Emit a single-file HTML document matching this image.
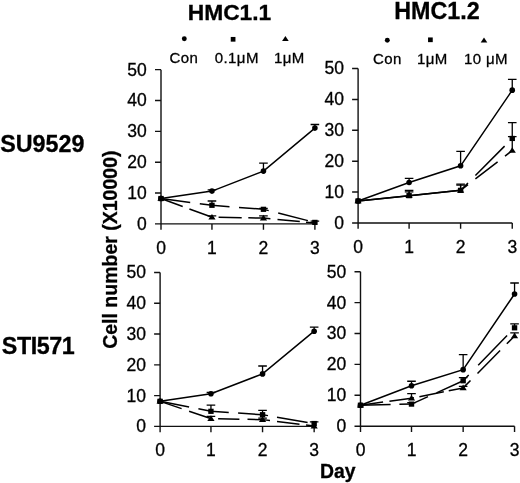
<!DOCTYPE html>
<html><head><meta charset="utf-8"><style>
html,body{margin:0;padding:0;background:#fff;}
svg{display:block;will-change:transform;}
text{font-family:"Liberation Sans",sans-serif;fill:#000;stroke:#000;stroke-width:0.3px;}
.tk{font-size:17.5px;}
.lg{font-size:15px;letter-spacing:0.4px;}
.ttl{font-size:23px;font-weight:bold;}
.row{font-size:23.3px;font-weight:bold;}
.ax{font-size:19.5px;font-weight:bold;}
</style></head><body>
<svg width="520" height="483" viewBox="0 0 520 483">
<rect width="520" height="483" fill="#fff"/>
<text x="187.7" y="19.6" class="ttl" style="font-size:22.8px">HMC1.1</text>
<text x="394.2" y="18.5" class="ttl" style="font-size:23.3px">HMC1.2</text>
<text x="0.2" y="151.6" class="row">SU9529</text>
<text x="1.8" y="353.8" class="row" style="letter-spacing:-0.45px">STI571</text>
<text x="319.9" y="477.7" class="ax" style="font-size:19.4px">Day</text>
<text transform="translate(117 249.7) rotate(-90)" text-anchor="middle" class="ax">Cell number (X10000)</text>
<g fill="#000"><circle cx="184.3" cy="38.7" r="2.45"/><rect x="230.75" y="36.95" width="4.7" height="4.7"/><path d="M285.4 36L288.7 41L282.1 41Z"/><circle cx="387.3" cy="40.3" r="2.45"/><rect x="428.05" y="37.45" width="4.7" height="4.7"/><path d="M484 37.6L487.3 42.6L480.7 42.6Z"/></g>
<text x="169.6" y="63.1" class="lg">Con</text>
<text x="214.8" y="63.1" class="lg">0.1μM</text>
<text x="273.9" y="63.1" class="lg">1μM</text>
<text x="373.1" y="63.5" class="lg">Con</text>
<text x="417" y="63.5" class="lg">1μM</text>
<text x="464" y="63.5" class="lg">10 μM</text>
<path d="M161 69.65V229.7M155 223.9H314.9" stroke="#111" stroke-width="1.4" fill="none"/>
<path d="M155 193.05H161M155 162.2H161M155 131.35H161M155 100.5H161M155 69.65H161M211.95 223.9V229.7M263.45 223.9V229.7M314.9 223.9V229.7" stroke="#111" stroke-width="1.4" fill="none"/>
<text x="146.8" y="229.8" text-anchor="end" class="tk">0</text>
<text x="146.8" y="198.95" text-anchor="end" class="tk">10</text>
<text x="146.8" y="168.1" text-anchor="end" class="tk">20</text>
<text x="146.8" y="137.25" text-anchor="end" class="tk">30</text>
<text x="146.8" y="106.4" text-anchor="end" class="tk">40</text>
<text x="146.8" y="75.55" text-anchor="end" class="tk">50</text>
<text x="161" y="253.9" text-anchor="middle" class="tk">0</text>
<text x="211.95" y="253.9" text-anchor="middle" class="tk">1</text>
<text x="263.45" y="253.9" text-anchor="middle" class="tk">2</text>
<text x="314.9" y="253.9" text-anchor="middle" class="tk">3</text>
<path d="M161 198.51L182.7 206.47M189.4 208.93L211.5 217.04M218.6 217.32L241.7 217.72M248.3 217.84L263.45 218.1L270.4 218.76M277.5 219.43L299.8 221.54M306 222.13L314.9 222.97" fill="none" stroke="#000" stroke-width="1.5" stroke-linejoin="round"/>
<path d="M211.95 217.21V215.97M207.65 215.97H216.25M263.45 218.1V215.94M259.15 215.94H267.75" stroke="#000" stroke-width="1.3" fill="none"/>
<g fill="#000"><path d="M161 195.21L164.6 200.81L157.4 200.81Z"/><path d="M211.95 213.91L215.55 219.51L208.35 219.51Z"/><path d="M263.45 214.8L267.05 220.4L259.85 220.4Z"/></g>
<path d="M161 198.51L190.2 202.4M199.8 203.68L211.95 205.3L229.5 206.66M239 207.4L263.45 209.31L268.7 210.64M278.2 213.06L307.9 220.61" fill="none" stroke="#000" stroke-width="1.5" stroke-linejoin="round"/>
<path d="M211.95 205.3V200.98M207.65 200.98H216.25M263.45 209.31V208.38M259.15 208.38H267.75M314.9 222.39V221.15M310.6 221.15H319.2" stroke="#000" stroke-width="1.3" fill="none"/>
<g fill="#000"><rect x="158.3" y="195.91" width="5.4" height="5.2"/><rect x="209.25" y="202.7" width="5.4" height="5.2"/><rect x="260.75" y="206.71" width="5.4" height="5.2"/><rect x="312.2" y="219.79" width="5.4" height="5.2"/></g>
<polyline points="161,198.51 211.95,191.11 263.45,171.12 314.9,128.11" fill="none" stroke="#000" stroke-width="1.5"/>
<path d="M211.95 191.11V189.87M207.65 189.87H216.25M263.45 171.12V163.09M259.15 163.09H267.75M314.9 128.11V124.5M310.6 124.5H319.2" stroke="#000" stroke-width="1.3" fill="none"/>
<g fill="#000"><circle cx="161" cy="198.51" r="2.8"/><circle cx="211.95" cy="191.11" r="2.8"/><circle cx="263.45" cy="171.12" r="2.8"/><circle cx="314.9" cy="128.11" r="2.8"/></g>
<path d="M358.1 68.55V228.75M352.1 222.95H512.25" stroke="#111" stroke-width="1.4" fill="none"/>
<path d="M352.1 192.07H358.1M352.1 161.19H358.1M352.1 130.31H358.1M352.1 99.43H358.1M352.1 68.55H358.1M409.1 222.95V228.75M460.6 222.95V228.75M512.25 222.95V228.75" stroke="#111" stroke-width="1.4" fill="none"/>
<text x="343.9" y="228.85" text-anchor="end" class="tk">0</text>
<text x="343.9" y="197.97" text-anchor="end" class="tk">10</text>
<text x="343.9" y="167.09" text-anchor="end" class="tk">20</text>
<text x="343.9" y="136.21" text-anchor="end" class="tk">30</text>
<text x="343.9" y="105.33" text-anchor="end" class="tk">40</text>
<text x="343.9" y="74.45" text-anchor="end" class="tk">50</text>
<text x="358.1" y="252.95" text-anchor="middle" class="tk">0</text>
<text x="409.1" y="252.95" text-anchor="middle" class="tk">1</text>
<text x="460.6" y="252.95" text-anchor="middle" class="tk">2</text>
<text x="512.25" y="252.95" text-anchor="middle" class="tk">3</text>
<path d="M358.1 200.96L409.1 195.65L460.6 190.34L468 184.64M475.4 178.94L497.6 161.83M505 156.12L512.25 150.54" fill="none" stroke="#000" stroke-width="1.5" stroke-linejoin="round"/>
<path d="M409.1 195.65V191.95M404.8 191.95H413.4M460.6 190.34V185.09M456.3 185.09H464.9M512.25 150.54V136.64M507.95 136.64H516.55" stroke="#000" stroke-width="1.3" fill="none"/>
<g fill="#000"><path d="M358.1 197.66L361.7 203.26L354.5 203.26Z"/><path d="M409.1 192.35L412.7 197.95L405.5 197.95Z"/><path d="M460.6 187.04L464.2 192.64L457 192.64Z"/><path d="M512.25 147.24L515.85 152.84L508.65 152.84Z"/></g>
<path d="M358.1 200.96L409.1 195.65L460.6 190.34L468 182.91M475.4 175.48L504.6 146.15" fill="none" stroke="#000" stroke-width="1.5" stroke-linejoin="round"/>
<path d="M409.1 195.65V190.4M404.8 190.4H413.4M460.6 190.34V184.16M456.3 184.16H464.9M512.25 138.46V122.71M507.95 122.71H516.55" stroke="#000" stroke-width="1.3" fill="none"/>
<g fill="#000"><rect x="355.4" y="198.36" width="5.4" height="5.2"/><rect x="406.4" y="193.05" width="5.4" height="5.2"/><rect x="457.9" y="187.74" width="5.4" height="5.2"/><rect x="509.55" y="135.86" width="5.4" height="5.2"/></g>
<polyline points="358.1,200.96 409.1,182.5 460.6,165.82 512.25,90.17" fill="none" stroke="#000" stroke-width="1.5"/>
<path d="M409.1 182.5V178.39M404.8 178.39H413.4M460.6 165.82V151.31M456.3 151.31H464.9M512.25 90.17V79.36M507.95 79.36H516.55" stroke="#000" stroke-width="1.3" fill="none"/>
<g fill="#000"><circle cx="358.1" cy="200.96" r="2.8"/><circle cx="409.1" cy="182.5" r="2.8"/><circle cx="460.6" cy="165.82" r="2.8"/><circle cx="512.25" cy="90.17" r="2.8"/></g>
<path d="M160.1 272.5V432.2M154.1 426.4H314.15" stroke="#111" stroke-width="1.4" fill="none"/>
<path d="M154.1 395.62H160.1M154.1 364.84H160.1M154.1 334.06H160.1M154.1 303.28H160.1M154.1 272.5H160.1M210.95 426.4V432.2M262.55 426.4V432.2M314.15 426.4V432.2" stroke="#111" stroke-width="1.4" fill="none"/>
<text x="145.9" y="432.3" text-anchor="end" class="tk">0</text>
<text x="145.9" y="401.52" text-anchor="end" class="tk">10</text>
<text x="145.9" y="370.74" text-anchor="end" class="tk">20</text>
<text x="145.9" y="339.96" text-anchor="end" class="tk">30</text>
<text x="145.9" y="309.18" text-anchor="end" class="tk">40</text>
<text x="145.9" y="278.4" text-anchor="end" class="tk">50</text>
<text x="160.1" y="456.4" text-anchor="middle" class="tk">0</text>
<text x="210.95" y="456.4" text-anchor="middle" class="tk">1</text>
<text x="262.55" y="456.4" text-anchor="middle" class="tk">2</text>
<text x="314.15" y="456.4" text-anchor="middle" class="tk">3</text>
<path d="M160.2 401.35L181.6 408.63M189.1 411.18L210.6 418.49M218.1 418.75L239.4 419.17M247.5 419.33L262.55 419.63L270 420.56M277 421.44L299.5 424.26M306 425.07L313.9 426.06" fill="none" stroke="#000" stroke-width="1.5" stroke-linejoin="round"/>
<path d="M210.95 418.61V416.46M206.65 416.46H215.25M262.55 419.63V418.09M258.25 418.09H266.85" stroke="#000" stroke-width="1.3" fill="none"/>
<g fill="#000"><path d="M160.1 398.01L163.7 403.61L156.5 403.61Z"/><path d="M210.95 415.31L214.55 420.91L207.35 420.91Z"/><path d="M262.55 416.33L266.15 421.93L258.95 421.93Z"/><path d="M314.15 422.79L317.75 428.39L310.55 428.39Z"/></g>
<path d="M160.2 401.33L189.1 407.02M198.4 408.85L210.95 411.32L228.75 412.49M238.1 413.1L262.55 414.7L268 415.63M277 417.17L307.6 422.39" fill="none" stroke="#000" stroke-width="1.5" stroke-linejoin="round"/>
<path d="M210.95 411.32V405.16M206.65 405.16H215.25M262.55 414.7V410.39M258.25 410.39H266.85M314.15 423.51V421.97M309.85 421.97H318.45" stroke="#000" stroke-width="1.3" fill="none"/>
<g fill="#000"><rect x="157.4" y="398.71" width="5.4" height="5.2"/><rect x="208.25" y="408.72" width="5.4" height="5.2"/><rect x="259.85" y="412.1" width="5.4" height="5.2"/><rect x="311.45" y="420.91" width="5.4" height="5.2"/></g>
<polyline points="160.1,401.31 210.95,393.71 262.55,373.89 314.15,331.2" fill="none" stroke="#000" stroke-width="1.5"/>
<path d="M210.95 393.71V392.48M206.65 392.48H215.25M262.55 373.89V366.01M258.25 366.01H266.85M314.15 331.2V327.2M309.85 327.2H318.45" stroke="#000" stroke-width="1.3" fill="none"/>
<g fill="#000"><circle cx="160.1" cy="401.31" r="2.8"/><circle cx="210.95" cy="393.71" r="2.8"/><circle cx="262.55" cy="373.89" r="2.8"/><circle cx="314.15" cy="331.2" r="2.8"/></g>
<path d="M360.5 271.75V432M354.5 426.2H514.55" stroke="#111" stroke-width="1.4" fill="none"/>
<path d="M354.5 395.31H360.5M354.5 364.42H360.5M354.5 333.53H360.5M354.5 302.64H360.5M354.5 271.75H360.5M411.5 426.2V432M463.15 426.2V432M514.55 426.2V432" stroke="#111" stroke-width="1.4" fill="none"/>
<text x="346.3" y="432.1" text-anchor="end" class="tk">0</text>
<text x="346.3" y="401.21" text-anchor="end" class="tk">10</text>
<text x="346.3" y="370.32" text-anchor="end" class="tk">20</text>
<text x="346.3" y="339.43" text-anchor="end" class="tk">30</text>
<text x="346.3" y="308.54" text-anchor="end" class="tk">40</text>
<text x="346.3" y="277.65" text-anchor="end" class="tk">50</text>
<text x="360.5" y="456.2" text-anchor="middle" class="tk">0</text>
<text x="411.5" y="456.2" text-anchor="middle" class="tk">1</text>
<text x="463.15" y="456.2" text-anchor="middle" class="tk">2</text>
<text x="514.55" y="456.2" text-anchor="middle" class="tk">3</text>
<path d="M360.6 405.18L383.1 402.1M389.4 401.24L411.5 398.21L414 397.71M419.4 396.64L443.8 391.76M448.75 390.77L463.15 387.9L470.5 380.48M477.5 373.41L500.1 350.59M506.8 343.83L514.55 336" fill="none" stroke="#000" stroke-width="1.5" stroke-linejoin="round"/>
<path d="M411.5 398.21V393.58M407.2 393.58H415.8M463.15 387.9V386.35M458.85 386.35H467.45M514.55 336V332.91M510.25 332.91H518.85" stroke="#000" stroke-width="1.3" fill="none"/>
<g fill="#000"><path d="M360.5 401.89L364.1 407.49L356.9 407.49Z"/><path d="M411.5 394.91L415.1 400.51L407.9 400.51Z"/><path d="M463.15 384.6L466.75 390.2L459.55 390.2Z"/><path d="M514.55 332.7L518.15 338.3L510.95 338.3Z"/></g>
<path d="M360.6 405.19L390.6 404.56M399.4 404.37L411.5 404.11L428 396.66M436.5 392.83L463.15 380.79L468.7 375.07M478.2 365.28L507.1 335.49" fill="none" stroke="#000" stroke-width="1.5" stroke-linejoin="round"/>
<path d="M411.5 404.11V402.57M407.2 402.57H415.8M463.15 380.79V377.7M458.85 377.7H467.45M514.55 327.82V323.8M510.25 323.8H518.85" stroke="#000" stroke-width="1.3" fill="none"/>
<g fill="#000"><rect x="357.8" y="402.59" width="5.4" height="5.2"/><rect x="408.8" y="401.51" width="5.4" height="5.2"/><rect x="460.45" y="378.19" width="5.4" height="5.2"/><rect x="511.85" y="325.22" width="5.4" height="5.2"/></g>
<polyline points="360.5,405.19 411.5,385.73 463.15,369.67 514.55,293.99" fill="none" stroke="#000" stroke-width="1.5"/>
<path d="M411.5 385.73V381.26M407.2 381.26H415.8M463.15 369.67V354.54M458.85 354.54H467.45M514.55 293.99V283.02M510.25 283.02H518.85" stroke="#000" stroke-width="1.3" fill="none"/>
<g fill="#000"><circle cx="360.5" cy="405.19" r="2.8"/><circle cx="411.5" cy="385.73" r="2.8"/><circle cx="463.15" cy="369.67" r="2.8"/><circle cx="514.55" cy="293.99" r="2.8"/></g>
</svg>
</body></html>
